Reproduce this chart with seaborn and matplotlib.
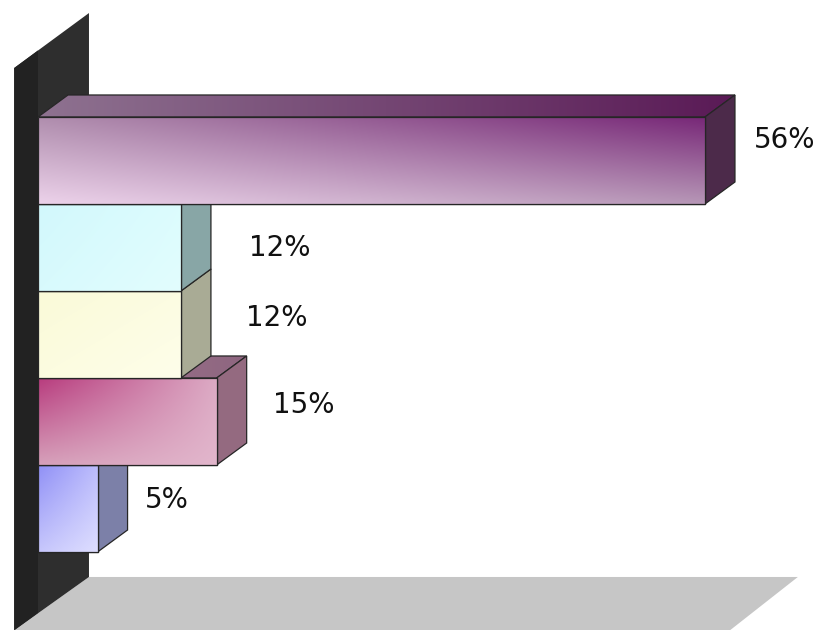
import numpy as np
import pandas as pd
import matplotlib
matplotlib.use("Agg")
import matplotlib.pyplot as plt
import seaborn as sns
from matplotlib.patches import Polygon
from matplotlib.colors import to_rgb

# ---- data ----
categories = ["Série 1", "Série 2", "Série 3", "Série 4", "Série 5"]
values = [56, 12, 12, 15, 5]
value_labels = ["56%", "12%", "12%", "15%", "5%"]

# ---- styling ----
front_base = ["#c4a0c0", "#d6fafd", "#fcfce2", "#d8a2bc", "#b4b4fa"]
# corner colours for the front-face shading: (top-left, top-right, bottom-left, bottom-right)
front_corners = [
    ("#b08eae", "#782878", "#ecd2ea", "#b696b6"),
    ("#d2f8fc", "#dcfcfe", "#d8fafd", "#e2fdfe"),
    ("#fafad8", "#fcfce2", "#fcfce0", "#fefeea"),
    ("#b83c7e", "#dcaac4", "#d6a0ba", "#e2b6cc"),
    ("#9090f6", "#bcbcfc", "#c6c6fc", "#dedeff"),
]
top_colors = [("#8e7290", "#5a1a56"), ("#9ab8b8", "#9ab8b8"), ("#c0c2aa", "#c0c2aa"),
              ("#a27890", "#8e6680"), ("#8a8eb8", "#8a8eb8")]
side_colors = ["#4c2a4a", "#88a6a6", "#a9ab95", "#946a80", "#7c80a8"]
edge_color = "#262626"

# label offsets (x in value units from the bar's back edge, y in bar units)
label_dx = [4.2, 5.8, 5.5, 4.8, 3.3]
label_dy = [-0.236, 0.006, -0.19, -0.19, -0.10]

DX, DY = 2.52, -0.253          # bar depth offset
W, H = 819, 630

sns.set_theme(style="white")
plt.rcParams["font.family"] = ["DejaVu Sans"]

fig = plt.figure(figsize=(W / 100, H / 100), dpi=100)
ax = fig.add_axes([0, 0, 1, 1])

df = pd.DataFrame({"category": categories, "value": values})
sns.barplot(data=df, x="value", y="category", hue="category", palette=front_base,
            legend=False, orient="h", width=1.0, ax=ax,
            edgecolor=edge_color, linewidth=0.9, saturation=1)
bars = sorted([p for p in ax.patches if hasattr(p, "get_y")], key=lambda p: p.get_y())

XL = (-38 / 11.91, (W - 38) / 11.91)
YL = ((H - 160.5) / 87.0, -160.5 / 87.0)


def corner_gradient(c, ny=60, nx=120):
    tl, tr, bl, br = (np.array(to_rgb(k)) for k in c)
    u = np.linspace(0, 1, nx)[None, :, None]
    v = np.linspace(0, 1, ny)[:, None, None]
    top = tl * (1 - u) + tr * u
    bot = bl * (1 - u) + br * u
    return top * (1 - v) + bot * v


# floor and back wall
ax.add_patch(Polygon([(4.28, 4.787), (63.8, 4.787), (58.1, 5.40), (-2.0, 5.40)],
                     closed=True, facecolor="#c6c6c6", edgecolor="none", zorder=1))
ax.add_patch(Polygon([(-2.0, -1.063), (4.28, -1.695), (4.28, 4.787), (-2.0, 5.40)],
                     closed=True, facecolor="#2e2e2e", edgecolor="none", zorder=2))
ax.add_patch(Polygon([(-2.0, -1.063), (0.0, -1.265), (0.0, 5.20), (-2.0, 5.40)],
                     closed=True, facecolor="#222222", edgecolor="none", zorder=2.1))

n = len(values)
for i, (bar, v) in enumerate(zip(bars, values)):
    z = 10 + (n - 1 - i) * 2
    y0 = bar.get_y()
    y1 = y0 + bar.get_height()
    # top face with a left-to-right shade
    top_poly = Polygon([(0, y0), (v, y0), (v + DX, y0 + DY), (DX, y0 + DY)], closed=True,
                       facecolor=top_colors[i][0], edgecolor="none", zorder=z)
    ax.add_patch(top_poly)
    c0, c1 = top_colors[i]
    tg = corner_gradient((c0, c1, c0, c1), ny=4)
    tim = ax.imshow(tg, extent=(0, v + DX, y0, y0 + DY), origin="upper", aspect="auto",
                    interpolation="bilinear", zorder=z + 0.05)
    tim.set_clip_path(top_poly)
    ax.add_patch(Polygon(top_poly.get_xy(), closed=True, fill=False, edgecolor=edge_color,
                         linewidth=0.9, zorder=z + 0.06))
    # side face
    ax.add_patch(Polygon([(v, y0), (v + DX, y0 + DY), (v + DX, y1 + DY), (v, y1)], closed=True,
                         facecolor=side_colors[i], edgecolor=edge_color, linewidth=0.9,
                         zorder=z + 0.1))
    # front face with shading
    bar.set_zorder(z + 0.2)
    grad = corner_gradient(front_corners[i])
    im = ax.imshow(grad, extent=(0, v, y1, y0), origin="upper", aspect="auto",
                   interpolation="bilinear", zorder=z + 0.3)
    im.set_clip_path(bar)
    ax.add_patch(Polygon([(0, y0), (v, y0), (v, y1), (0, y1)], closed=True, fill=False,
                         edgecolor=edge_color, linewidth=0.9, zorder=z + 0.4))
    # value label
    ax.text(v + DX + label_dx[i], i + label_dy[i], value_labels[i], fontsize=20,
            color="#111111", ha="center", va="center", zorder=40)

ax.set_xlim(*XL)
ax.set_ylim(*YL)
ax.axis("off")
fig.savefig("out.png", dpi=100, facecolor="white")
